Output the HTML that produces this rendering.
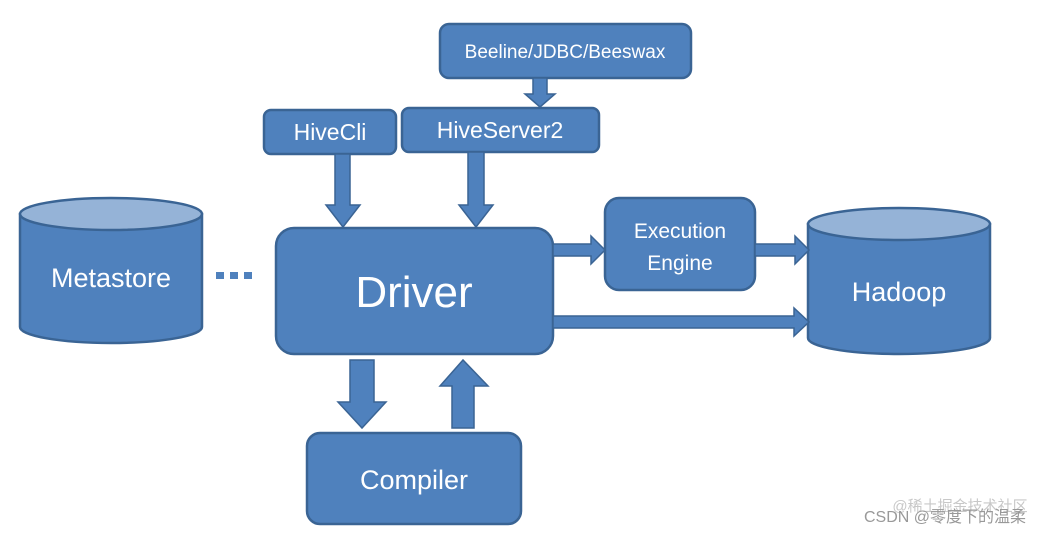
<!DOCTYPE html>
<html><head><meta charset="utf-8"><style>
html,body{margin:0;padding:0;background:#fff;}
svg{display:block;}
text{font-family:"Liberation Sans","DejaVu Sans",sans-serif;fill:#fff;text-anchor:middle;}
</style></head><body>
<svg width="1057" height="534" viewBox="0 0 1057 534" xmlns="http://www.w3.org/2000/svg">
<g fill="#4f81bd" stroke="#3a6494" stroke-width="2.5">
<!-- boxes -->
<rect x="440" y="24" width="251" height="54" rx="9"/>
<rect x="264" y="110" width="132" height="44" rx="7"/>
<rect x="402" y="108" width="197" height="44" rx="7"/>
<rect x="276" y="228" width="277" height="126" rx="18"/>
<rect x="605" y="198" width="150" height="92" rx="14"/>
<rect x="307" y="433" width="214" height="91" rx="13"/>
<!-- Metastore cylinder -->
<path d="M20,214 L20,327 A91,16 0 0 0 202,327 L202,214 Z"/>
<ellipse cx="111" cy="214" rx="91" ry="16" fill="#95b3d7"/>
<!-- Hadoop cylinder -->
<path d="M808,224 L808,338 A91,16 0 0 0 990,338 L990,224 Z"/>
<ellipse cx="899" cy="224" rx="91" ry="16" fill="#95b3d7"/>
<!-- arrows -->
<path stroke-width="1.5" d="M533,78 L547,78 L547,94 L555,94 L540,107 L525,94 L533,94 Z"/>
<path stroke-width="1.5" d="M335,154 L350,154 L350,205 L360,205 L343,227 L326,205 L335,205 Z"/>
<path stroke-width="1.5" d="M468,152 L484,152 L484,205 L493,205 L476,227 L459,205 L468,205 Z"/>
<path stroke-width="1.5" d="M553,244 L591,244 L591,236 L605,250 L591,264 L591,256 L553,256 Z"/>
<path stroke-width="1.5" d="M755,244 L795,244 L795,236 L809,250 L795,264 L795,256 L755,256 Z"/>
<path stroke-width="1.5" d="M553,316 L794,316 L794,308 L809,322 L794,336 L794,328 L553,328 Z"/>
<path stroke-width="1.5" d="M350,360 L374,360 L374,402 L386,402 L362,428 L338,402 L350,402 Z"/>
<path stroke-width="1.5" d="M452,428 L474,428 L474,386 L488,386 L463,360 L440,386 L452,386 Z"/>
</g>
<g fill="#4f81bd">
<rect x="216" y="272" width="8" height="7"/>
<rect x="230" y="272" width="8" height="7"/>
<rect x="244" y="272" width="8" height="7"/>
</g>
<text x="565" y="58" font-size="19">Beeline/JDBC/Beeswax</text>
<text x="330" y="140" font-size="23">HiveCli</text>
<text x="500" y="138" font-size="23">HiveServer2</text>
<text x="414" y="307" font-size="44">Driver</text>
<text x="680" y="238" font-size="21">Execution</text>
<text x="680" y="270" font-size="21">Engine</text>
<text x="111" y="287" font-size="27">Metastore</text>
<text x="899" y="301" font-size="27">Hadoop</text>
<text x="414" y="489" font-size="27">Compiler</text>
<text x="960" y="511" font-size="15" style="fill:#c8c8c8;font-family:'Liberation Sans','Noto Sans CJK SC',sans-serif">@稀土掘金技术社区</text>
<text x="945" y="522" font-size="16" style="fill:#999;font-family:'Liberation Sans','Noto Sans CJK SC',sans-serif">CSDN @零度下的温柔</text>
</svg>
</body></html>
